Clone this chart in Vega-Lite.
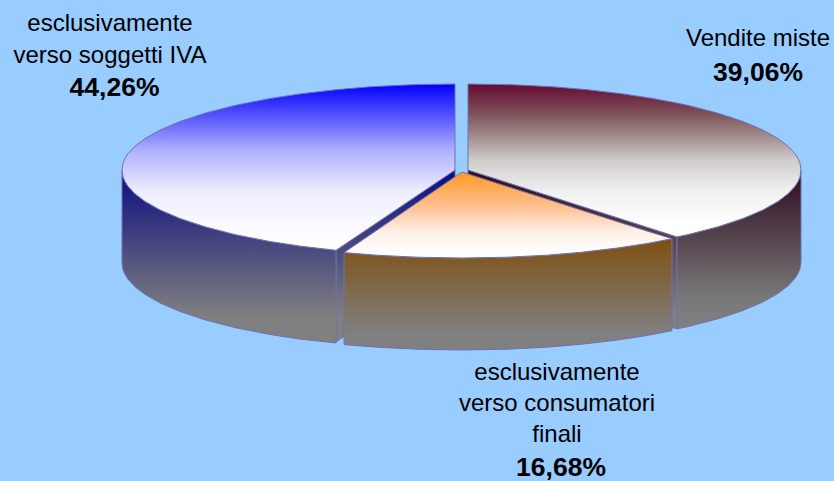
{
"$schema":"https://vega.github.io/schema/vega-lite/v6.json",
"width":834,"height":481,"padding":0,"autosize":"none","background":"#99ccff",
"config":{"view":{"stroke":null}},
"data":{"values":[
{"part":"blueCut","x":336,"y":250.3,"y2":342},{"part":"blueCut","x":455,"y":170,"y2":262},
{"part":"redCut","x":468,"y":170,"y2":262},{"part":"redCut","x":677,"y":236.9,"y2":328.9},
{"part":"blueTop","x":122,"y":170,"y2":170},{"part":"blueTop","x":123,"y":163.3,"y2":176.7},{"part":"blueTop","x":125,"y":158.5,"y2":181.5},{"part":"blueTop","x":128,"y":153.7,"y2":186.3},{"part":"blueTop","x":135,"y":146.2,"y2":193.8},{"part":"blueTop","x":145,"y":138.6,"y2":201.4},{"part":"blueTop","x":160,"y":130.1,"y2":209.9},{"part":"blueTop","x":180,"y":121.5,"y2":218.5},{"part":"blueTop","x":205,"y":113.2,"y2":226.8},{"part":"blueTop","x":235,"y":105.4,"y2":234.6},{"part":"blueTop","x":270,"y":98.5,"y2":241.5},{"part":"blueTop","x":300,"y":93.9,"y2":246.1},{"part":"blueTop","x":336,"y":89.7,"y2":250.3},{"part":"blueTop","x":370,"y":86.8,"y2":227.4},{"part":"blueTop","x":410,"y":84.8,"y2":200.4},{"part":"blueTop","x":455,"y":84,"y2":170},
{"part":"redTop","x":468,"y":84,"y2":170},{"part":"redTop","x":513,"y":84.8,"y2":184.4},{"part":"redTop","x":553,"y":86.8,"y2":197.2},{"part":"redTop","x":587,"y":89.7,"y2":208.1},{"part":"redTop","x":623,"y":93.9,"y2":219.6},{"part":"redTop","x":653,"y":98.5,"y2":229.2},{"part":"redTop","x":677,"y":103.1,"y2":236.9},{"part":"redTop","x":688,"y":105.4,"y2":234.6},{"part":"redTop","x":718,"y":113.2,"y2":226.8},{"part":"redTop","x":743,"y":121.5,"y2":218.5},{"part":"redTop","x":763,"y":130.1,"y2":209.9},{"part":"redTop","x":778,"y":138.6,"y2":201.4},{"part":"redTop","x":788,"y":146.2,"y2":193.8},{"part":"redTop","x":795,"y":153.7,"y2":186.3},{"part":"redTop","x":798,"y":158.5,"y2":181.5},{"part":"redTop","x":800,"y":163.3,"y2":176.7},{"part":"redTop","x":801,"y":170,"y2":170},
{"part":"blueWall","x":122,"y":170,"y2":263},{"part":"blueWall","x":123,"y":176.7,"y2":269.7},{"part":"blueWall","x":125,"y":181.5,"y2":274.5},{"part":"blueWall","x":128,"y":186.3,"y2":279.3},{"part":"blueWall","x":135,"y":193.8,"y2":286.8},{"part":"blueWall","x":145,"y":201.4,"y2":294.4},{"part":"blueWall","x":160,"y":209.9,"y2":302.9},{"part":"blueWall","x":180,"y":218.5,"y2":311.5},{"part":"blueWall","x":205,"y":226.8,"y2":319.8},{"part":"blueWall","x":235,"y":234.6,"y2":327.6},{"part":"blueWall","x":270,"y":241.5,"y2":334.5},{"part":"blueWall","x":300,"y":246.1,"y2":339.1},{"part":"blueWall","x":336,"y":250.3,"y2":343},
{"part":"redWall","x":677,"y":236.9,"y2":328.9},{"part":"redWall","x":688,"y":234.6,"y2":326.6},{"part":"redWall","x":718,"y":226.8,"y2":318.8},{"part":"redWall","x":743,"y":218.5,"y2":310.5},{"part":"redWall","x":763,"y":209.9,"y2":301.9},{"part":"redWall","x":778,"y":201.4,"y2":293.4},{"part":"redWall","x":788,"y":193.8,"y2":285.8},{"part":"redWall","x":795,"y":186.3,"y2":278.3},{"part":"redWall","x":798,"y":181.5,"y2":273.5},{"part":"redWall","x":800,"y":176.7,"y2":268.7},{"part":"redWall","x":801,"y":170,"y2":262},
{"part":"orangeWall","x":344,"y":252.6,"y2":344.6},{"part":"orangeWall","x":377,"y":255.2,"y2":347.2},{"part":"orangeWall","x":417,"y":257.2,"y2":349.2},{"part":"orangeWall","x":462,"y":258,"y2":350},{"part":"orangeWall","x":507,"y":257.2,"y2":349.2},{"part":"orangeWall","x":547,"y":255.2,"y2":347.2},{"part":"orangeWall","x":581,"y":252.3,"y2":344.3},{"part":"orangeWall","x":617,"y":248.1,"y2":340.1},{"part":"orangeWall","x":647,"y":243.5,"y2":335.5},{"part":"orangeWall","x":672,"y":238.7,"y2":330.7},
{"part":"orangeTop","x":344,"y":252.6,"y2":252.6},{"part":"orangeTop","x":377,"y":230.1,"y2":255.2},{"part":"orangeTop","x":417,"y":202.7,"y2":257.2},{"part":"orangeTop","x":462,"y":172,"y2":258},{"part":"orangeTop","x":507,"y":186.4,"y2":257.2},{"part":"orangeTop","x":547,"y":199.1,"y2":255.2},{"part":"orangeTop","x":581,"y":210,"y2":252.3},{"part":"orangeTop","x":617,"y":221.5,"y2":248.1},{"part":"orangeTop","x":647,"y":231,"y2":243.5},{"part":"orangeTop","x":672,"y":238.7,"y2":238.7},
{"part":"label","x":110,"y":24,"text":"esclusivamente"},{"part":"label","x":110,"y":56,"text":"verso soggetti IVA"},{"part":"share","x":114.5,"y":88,"text":"44,26%"},
{"part":"label","x":758,"y":39,"text":"Vendite miste"},{"part":"share","x":758,"y":73,"text":"39,06%"},
{"part":"label","x":557,"y":373,"text":"esclusivamente"},{"part":"label","x":557,"y":404,"text":"verso consumatori"},{"part":"label","x":557,"y":435,"text":"finali"},{"part":"share","x":561,"y":468,"text":"16,68%"}
]},
"encoding":{
"x":{"field":"x","type":"quantitative","scale":{"domain":[0,834]},"axis":null},
"y":{"field":"y","type":"quantitative","scale":{"domain":[481,0]},"axis":null}
},
"layer":[
{"transform":[{"filter":"datum.part==='redCut'"}],"mark":{"type":"area","orient":"vertical","stroke":"#7070b0","strokeWidth":1,"fill":{"gradient":"linear","x1":0,"y1":0,"x2":0,"y2":1,"stops":[{"offset":0,"color":"#2e0a1e"},{"offset":0.9,"color":"#808080"},{"offset":1,"color":"#808080"}]}},"encoding":{"y2":{"field":"y2"}}},
{"transform":[{"filter":"datum.part==='blueCut'"}],"mark":{"type":"area","orient":"vertical","stroke":"#7070b0","strokeWidth":1,"fill":{"gradient":"linear","x1":0,"y1":0,"x2":0,"y2":1,"stops":[{"offset":0,"color":"#0c0c80"},{"offset":0.85,"color":"#808080"},{"offset":1,"color":"#808080"}]}},"encoding":{"y2":{"field":"y2"}}},
{"transform":[{"filter":"datum.part==='blueWall'"}],"mark":{"type":"area","orient":"vertical","stroke":"#7070b0","strokeWidth":1,"fill":{"gradient":"linear","x1":0,"y1":0,"x2":0,"y2":1,"stops":[{"offset":0,"color":"#0c0c80"},{"offset":0.85,"color":"#808080"},{"offset":1,"color":"#808080"}]}},"encoding":{"y2":{"field":"y2"}}},
{"transform":[{"filter":"datum.part==='redWall'"}],"mark":{"type":"area","orient":"vertical","stroke":"#7070b0","strokeWidth":1,"fill":{"gradient":"linear","x1":0,"y1":0,"x2":0,"y2":1,"stops":[{"offset":0,"color":"#2e0a1e"},{"offset":0.8,"color":"#787878"},{"offset":1,"color":"#808080"}]}},"encoding":{"y2":{"field":"y2"}}},
{"transform":[{"filter":"datum.part==='orangeWall'"}],"mark":{"type":"area","orient":"vertical","stroke":"#7070b0","strokeWidth":1,"fill":{"gradient":"linear","x1":0,"y1":0,"x2":0,"y2":1,"stops":[{"offset":0,"color":"#7f4f10"},{"offset":0.85,"color":"#808080"},{"offset":1,"color":"#808080"}]}},"encoding":{"y2":{"field":"y2"}}},
{"transform":[{"filter":"datum.part==='blueTop'"}],"mark":{"type":"area","orient":"vertical","stroke":"#7070b0","strokeWidth":1,"fill":{"gradient":"linear","x1":0,"y1":0,"x2":0,"y2":1,"stops":[{"offset":0,"color":"#0000ff"},{"offset":0.4,"color":"#b0b0ff"},{"offset":0.65,"color":"#eeeeff"},{"offset":0.95,"color":"#ffffff"},{"offset":1,"color":"#ffffff"}]}},"encoding":{"y2":{"field":"y2"}}},
{"transform":[{"filter":"datum.part==='redTop'"}],"mark":{"type":"area","orient":"vertical","stroke":"#7070b0","strokeWidth":1,"fill":{"gradient":"linear","x1":0,"y1":0,"x2":0,"y2":1,"stops":[{"offset":0,"color":"#660a33"},{"offset":0.19,"color":"#7c5058"},{"offset":0.33,"color":"#9e8888"},{"offset":0.5,"color":"#d0cccc"},{"offset":0.7,"color":"#f0f0f0"},{"offset":0.92,"color":"#ffffff"},{"offset":1,"color":"#ffffff"}]}},"encoding":{"y2":{"field":"y2"}}},
{"transform":[{"filter":"datum.part==='orangeTop'"}],"mark":{"type":"area","orient":"vertical","stroke":"#7070b0","strokeWidth":1,"fill":{"gradient":"linear","x1":0,"y1":0,"x2":0,"y2":1,"stops":[{"offset":0,"color":"#ff9922"},{"offset":0.4,"color":"#ffc090"},{"offset":0.7,"color":"#fff0e8"},{"offset":0.95,"color":"#ffffff"},{"offset":1,"color":"#ffffff"}]}},"encoding":{"y2":{"field":"y2"}}},
{"transform":[{"filter":"datum.part==='label'"}],"mark":{"type":"text","font":"Liberation Sans","fontSize":24,"color":"#000000","align":"center","baseline":"middle"},"encoding":{"text":{"field":"text"}}},
{"transform":[{"filter":"datum.part==='share'"}],"mark":{"type":"text","font":"Liberation Sans","fontSize":26.5,"fontWeight":"bold","color":"#000000","align":"center","baseline":"middle"},"encoding":{"text":{"field":"text"}}}
]
}
